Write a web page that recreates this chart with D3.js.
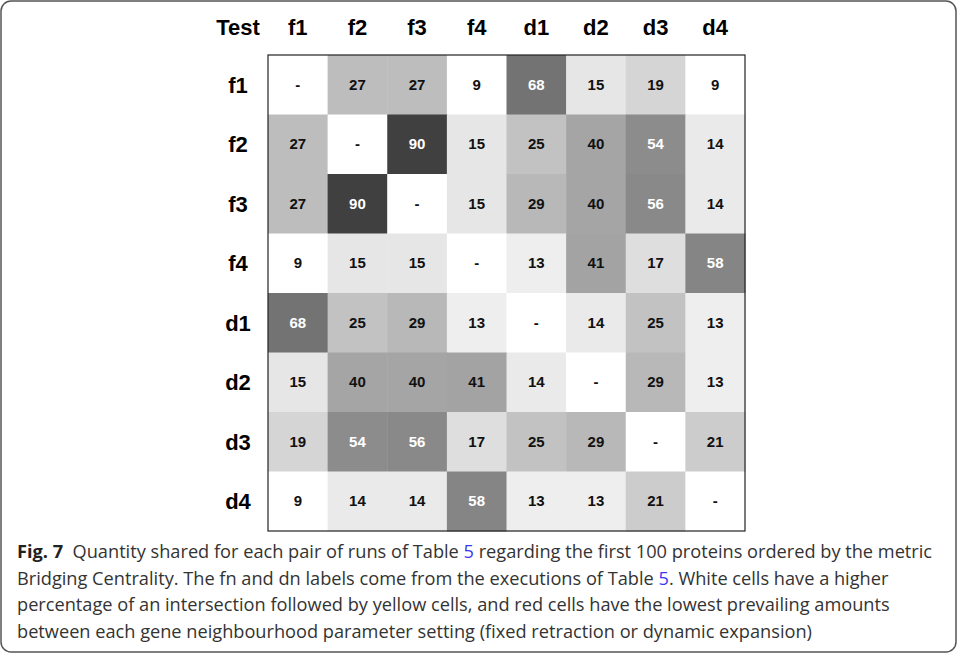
<!DOCTYPE html>
<html>
<head>
<meta charset="utf-8">
<script src="https://cdn.jsdelivr.net/npm/d3@7"></script>
<style>
  html, body { margin: 0; padding: 0; background: #fff; }
  svg { display: block; }
</style>
</head>
<body>
<svg id="fig" width="958" height="654"></svg>
<script>
// Run labels (rows and columns share the same order)
const runs = ["f1", "f2", "f3", "f4", "d1", "d2", "d3", "d4"];

// Shared-protein counts per pair of runs; null marks the diagonal
const rowF1 = [null, 27, 27, 9, 68, 15, 19, 9];
const rowF2 = [27, null, 90, 15, 25, 40, 54, 14];
const rowF3 = [27, 90, null, 15, 29, 40, 56, 14];
const rowF4 = [9, 15, 15, null, 13, 41, 17, 58];
const rowD1 = [68, 25, 29, 13, null, 14, 25, 13];
const rowD2 = [15, 40, 40, 41, 14, null, 29, 13];
const rowD3 = [19, 54, 56, 17, 25, 29, null, 21];
const rowD4 = [9, 14, 14, 58, 13, 13, 21, null];
const matrix = [rowF1, rowF2, rowF3, rowF4, rowD1, rowD2, rowD3, rowD4];

const cornerLabel = "Test";

// Caption lines
const captionLines = [
  [{t: "Fig. 7", b: true}, {t: "  Quantity shared for each pair of runs of Table "}, {t: "5", link: true}, {t: " regarding the first 100 proteins ordered by the metric"}],
  [{t: "Bridging Centrality. The fn and dn labels come from the executions of Table "}, {t: "5", link: true}, {t: ". White cells have a higher"}],
  [{t: "percentage of an intersection followed by yellow cells, and red cells have the lowest prevailing amounts"}],
  [{t: "between each gene neighbourhood parameter setting (fixed retraction or dynamic expansion)"}]
];

const svg = d3.select("#fig");

// Outer frame
svg.append("rect")
  .attr("x", 1).attr("y", 1).attr("width", 955).attr("height", 651)
  .attr("rx", 10).attr("ry", 10)
  .attr("fill", "none").attr("stroke", "#555").attr("stroke-width", 1.5);

const x = d3.scaleBand().domain(runs).range([268, 745]);
const y = d3.scaleBand().domain(runs).range([55, 531]);

// Grey ramp: few shared proteins -> white, many -> dark
const grey = d3.scaleLinear()
  .domain([9, 13, 17, 21, 25, 29, 41, 58, 68, 90])
  .range([255, 238, 222, 204, 194, 184, 163, 133, 115, 64])
  .clamp(true);
const fillFor = v => {
  if (v == null) return "#ffffff";
  const g = Math.round(grey(v));
  return d3.rgb(g, g, g).formatHex();
};

const cells = [];
matrix.forEach((row, i) => row.forEach((v, j) => cells.push({r: runs[i], c: runs[j], v})));

svg.append("g").selectAll("rect").data(cells).join("rect")
  .attr("x", d => x(d.c))
  .attr("y", d => y(d.r))
  .attr("width", x.bandwidth() + 0.5)
  .attr("height", y.bandwidth() + 0.5)
  .attr("fill", d => fillFor(d.v));

svg.append("g").selectAll("text").data(cells).join("text")
  .attr("x", d => x(d.c) + x.bandwidth() / 2)
  .attr("y", d => y(d.r) + y.bandwidth() / 2 + 5)
  .attr("text-anchor", "middle")
  .attr("font-family", "'Liberation Sans', Arial, sans-serif")
  .attr("font-weight", "bold")
  .attr("font-size", 15)
  .attr("fill", d => (d.v != null && d.v >= 50) ? "#ffffff" : "#111111")
  .text(d => d.v == null ? "-" : d.v);

// Grid border
svg.append("rect")
  .attr("x", 268).attr("y", 55)
  .attr("width", 477).attr("height", 476)
  .attr("fill", "none").attr("stroke", "#222").attr("stroke-width", 1.2);

const headFont = "'Liberation Sans', Arial, sans-serif";
const labelX = 238;

// Column headers
svg.append("g").selectAll("text").data(runs).join("text")
  .attr("x", d => x(d) + x.bandwidth() / 2)
  .attr("y", 35)
  .attr("text-anchor", "middle")
  .attr("font-family", headFont).attr("font-weight", "bold").attr("font-size", 22)
  .attr("fill", "#000")
  .text(d => d);

svg.append("text")
  .attr("x", labelX).attr("y", 35)
  .attr("text-anchor", "middle")
  .attr("font-family", headFont).attr("font-weight", "bold").attr("font-size", 22)
  .text(cornerLabel);

// Row headers
svg.append("g").selectAll("text").data(runs).join("text")
  .attr("x", labelX)
  .attr("y", d => y(d) + y.bandwidth() / 2 + 8)
  .attr("text-anchor", "middle")
  .attr("font-family", headFont).attr("font-weight", "bold").attr("font-size", 22)
  .attr("fill", "#000")
  .text(d => d);

// Caption
const cap = svg.append("g")
  .attr("font-family", "'Open Sans', 'Noto Sans', sans-serif")
  .attr("font-size", 18.2)
  .attr("fill", "#333");
captionLines.forEach((parts, i) => {
  const t = cap.append("text")
    .attr("x", 17)
    .attr("y", 558 + i * 26.5)
    .attr("xml:space", "preserve")
    .style("white-space", "pre");
  parts.forEach(p => {
    t.append("tspan")
      .attr("font-weight", p.b ? "bold" : null)
      .attr("fill", p.link ? "#3a3af0" : (p.b ? "#222" : null))
      .text(p.t);
  });
});
</script>
</body>
</html>
